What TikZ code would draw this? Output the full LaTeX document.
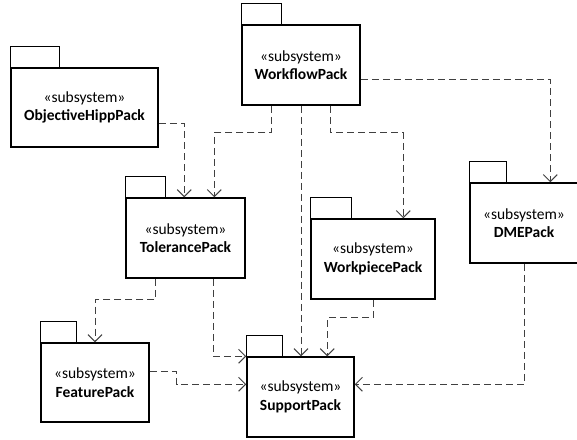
\documentclass[tikz,border=0pt]{standalone}
\usepackage{fontspec}
\setmainfont{Carlito}
\usetikzlibrary{arrows.meta,calc}
\begin{document}
\begin{tikzpicture}[x=1pt,y=-1pt,
  pkgline/.style={draw=black,line width=1.5pt},
  pkgbody/.style={pkgline,fill=white,inner sep=0pt,align=center,font=\fontsize{15.5}{18.5}\selectfont},
  dep/.style={draw=black!75,line width=1pt,dash pattern=on 7pt off 4pt,
    -{Straight Barb[length=7pt,width=14pt,line width=1pt]}}]
\useasboundingbox (0,0) rectangle (577,439);
\newcommand{\pkgtab}[2]{\draw[pkgline] (#1.north west) rectangle ($(#1.north west)+(#2,-21)$);}
% packages
\node[pkgbody,minimum width=118pt,minimum height=80pt] (wf) at (301,65) {«subsystem»\\\textbf{WorkflowPack}};
\pkgtab{wf}{40}
\node[pkgbody,minimum width=147pt,minimum height=79pt] (objh) at (84.5,107.5) {«subsystem»\\\textbf{ObjectiveHippPack}};
\pkgtab{objh}{49}
\node[pkgbody,minimum width=119pt,minimum height=80pt] (tol) at (185.5,238) {«subsystem»\\\textbf{TolerancePack}};
\pkgtab{tol}{40}
\node[pkgbody,minimum width=124pt,minimum height=80pt] (wp) at (373,259) {«subsystem»\\\textbf{WorkpiecePack}};
\pkgtab{wp}{41}
\node[pkgbody,minimum width=108pt,minimum height=80pt] (dme) at (524,223) {«subsystem»\\\textbf{DMEPack}};
\pkgtab{dme}{37}
\node[pkgbody,minimum width=108pt,minimum height=79pt] (feat) at (95,382.5) {«subsystem»\\\textbf{FeaturePack}};
\pkgtab{feat}{36}
\node[pkgbody,minimum width=107pt,minimum height=80pt] (sup) at (300.5,397) {«subsystem»\\\textbf{SupportPack}};
\pkgtab{sup}{36}
% dependencies
\draw[dep] ($(objh.south east)+(0,-24)$) -| ($(tol.north west)+(59,0)$);
\draw[dep] ($(wf.south west)+(30,0)$) -- ++(0,27) -| ($(tol.north west)+(89,0)$);
\draw[dep] ($(wf.south west)+(89,0)$) -- ++(0,27) -| ($(wp.north west)+(93,0)$);
\draw[dep] ($(wf.south east)+(0,-26)$) -| ($(dme.north west)+(81,0)$);
\draw[dep] (wf.south) -- (wf.south |- sup.north);
\draw[dep] ($(tol.south west)+(30,0)$) -- ++(0,21) -| (feat.north);
\draw[dep] ($(tol.south west)+(88,0)$) |- (sup.north west);
\draw[dep] ($(feat.south east)+(0,-51)$) -- ++(27,0) |- ($(sup.north west)+(0,28)$);
\draw[dep] (wp.south) -- ++(0,18) -| ($(sup.north west)+(81,0)$);
\draw[dep] (dme.south) |- ($(sup.north east)+(0,28)$);
\end{tikzpicture}
\end{document}
